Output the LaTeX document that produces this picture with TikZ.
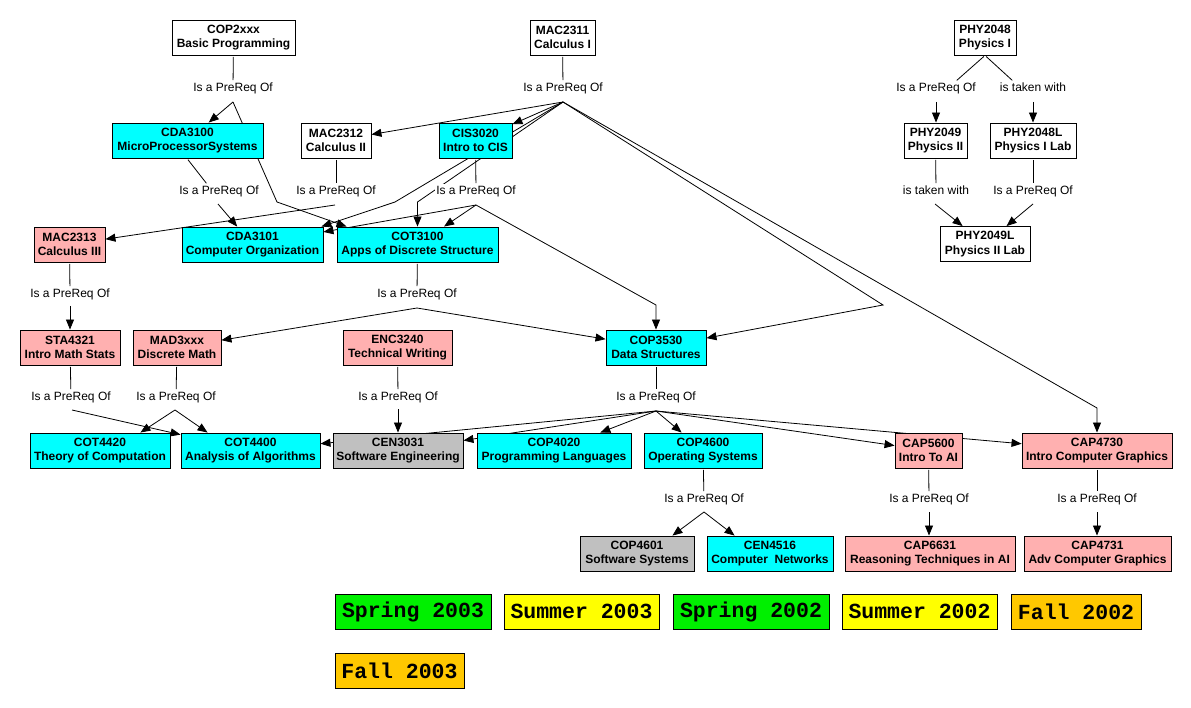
\documentclass[tikz,border=0pt]{standalone}
\usepackage{fontspec}
\setmainfont{Liberation Sans}
\newfontfamily\legfont{Liberation Mono}
\usetikzlibrary{arrows.meta,backgrounds}
\definecolor{ccyan}{HTML}{00FFFF}
\definecolor{cpink}{HTML}{FFB0B0}
\definecolor{cgray}{HTML}{C0C0C0}
\definecolor{cgreen}{HTML}{00F000}
\definecolor{cyellow}{HTML}{FFFF00}
\definecolor{corange}{HTML}{FFC800}
\begin{document}
\begin{tikzpicture}[x=1pt,y=-1pt,
 concept/.style={draw=black,line width=0.9pt,inner sep=0pt,minimum height=35pt,align=center,font=\fontsize{12}{14.5}\selectfont\bfseries},
 lnk/.style={fill=white,inner sep=1pt,text height=9pt,text depth=2.5pt,font=\fontsize{12}{14}\selectfont},
 legend/.style={draw=black,line width=0.9pt,inner sep=0pt,minimum height=35pt,font=\legfont\bfseries\fontsize{21.5}{24}\selectfont},
 plain/.style={line width=0.8pt,shorten <=1.5pt,shorten >=1pt},
 arr/.style={line width=0.8pt,-{Triangle[length=10pt,width=8pt]}},
]
\useasboundingbox (0,0) rectangle (1191,708);
% concepts
\node[concept,fill=white,minimum width=123pt] (cop2xxx) at (233.5,37.5) {COP2xxx\\Basic Programming};
\node[concept,fill=white,minimum width=65pt] (mac2311) at (562.5,37.5) {MAC2311\\Calculus I};
\node[concept,fill=white,minimum width=62pt] (phy2048) at (985,37.5) {PHY2048\\Physics I};
\node[concept,fill=ccyan,minimum width=151pt] (cda3100) at (187.5,140.5) {CDA3100\\MicroProcessorSystems};
\node[concept,fill=white,minimum width=70pt] (mac2312) at (336,140.5) {MAC2312\\Calculus II};
\node[concept,fill=ccyan,minimum width=73pt] (cis3020) at (475.5,140.5) {CIS3020\\Intro to CIS};
\node[concept,fill=white,minimum width=63pt] (phy2049) at (935.5,140.5) {PHY2049\\Physics II};
\node[concept,fill=white,minimum width=86pt] (phy2048l) at (1033,140.5) {PHY2048L\\Physics I Lab};
\node[concept,fill=cpink,minimum width=71pt] (mac2313) at (69.5,244.5) {MAC2313\\Calculus III};
\node[concept,fill=ccyan,minimum width=141pt] (cda3101) at (252.5,244.5) {CDA3101\\Computer Organization};
\node[concept,fill=ccyan,minimum width=161pt] (cot3100) at (417.5,244.5) {COT3100\\Apps of Discrete Structure};
\node[concept,fill=white,minimum width=90pt] (phy2049l) at (985,244) {PHY2049L\\Physics II Lab};
\node[concept,fill=cpink,minimum width=100pt] (sta4321) at (70,347.5) {STA4321\\Intro Math Stats};
\node[concept,fill=cpink,minimum width=88pt] (mad3xxx) at (177,347.5) {MAD3xxx\\Discrete Math};
\node[concept,fill=cpink,minimum width=109pt] (enc3240) at (397.5,347.5) {ENC3240\\Technical Writing};
\node[concept,fill=ccyan,minimum width=100pt] (cop3530) at (656,347.5) {COP3530\\Data Structures};
\node[concept,fill=ccyan,minimum width=140pt] (cot4420) at (100,450.5) {COT4420\\Theory of Computation};
\node[concept,fill=ccyan,minimum width=139pt] (cot4400) at (250.5,450.5) {COT4400\\Analysis of Algorithms};
\node[concept,fill=cgray,minimum width=130pt] (cen3031) at (398,450.5) {CEN3031\\Software Engineering};
\node[concept,fill=ccyan,minimum width=154pt] (cop4020) at (554,450.5) {COP4020\\Programming Languages};
\node[concept,fill=ccyan,minimum width=118pt] (cop4600) at (703,450.5) {COP4600\\Operating Systems};
\node[concept,fill=cpink,minimum width=67pt] (cap5600) at (928.5,450.5) {CAP5600\\Intro To AI};
\node[concept,fill=cpink,minimum width=150pt] (cap4730) at (1097,450.5) {CAP4730\\Intro Computer Graphics};
\node[concept,fill=cgray,minimum width=114pt] (cop4601) at (637,553.5) {COP4601\\Software Systems};
\node[concept,fill=ccyan,minimum width=126pt] (cen4516) at (770,553.5) {CEN4516\\Computer\ \ Networks};
\node[concept,fill=cpink,minimum width=170pt] (cap6631) at (930,553.5) {CAP6631\\Reasoning Techniques in AI};
\node[concept,fill=cpink,minimum width=147pt] (cap4731) at (1097.5,553.5) {CAP4731\\Adv Computer Graphics};
% linking phrases
\node[lnk] (l1) at (233,88) {Is a PreReq Of};
\node[lnk] (l2) at (219,191) {Is a PreReq Of};
\node[lnk] (l3) at (336,191) {Is a PreReq Of};
\node[lnk] (l4) at (563,88) {Is a PreReq Of};
\node[lnk] (l5) at (476,191) {Is a PreReq Of};
\node[lnk] (l6) at (417,294) {Is a PreReq Of};
\node[lnk] (l7) at (70,294) {Is a PreReq Of};
\node[lnk] (l8) at (71,397) {Is a PreReq Of};
\node[lnk] (l9) at (176,397) {Is a PreReq Of};
\node[lnk] (l10) at (398,397) {Is a PreReq Of};
\node[lnk] (l11) at (656,397) {Is a PreReq Of};
\node[lnk] (l12) at (704,499) {Is a PreReq Of};
\node[lnk] (l13) at (929,499) {Is a PreReq Of};
\node[lnk] (l14) at (1097,499) {Is a PreReq Of};
\node[lnk] (l15) at (936,88) {Is a PreReq Of};
\node[lnk] (l16) at (1033,88) {is taken with};
\node[lnk] (l17) at (936,191) {is taken with};
\node[lnk] (l18) at (1033,191) {Is a PreReq Of};
\coordinate (l1b) at (233,102);
\coordinate (l2b) at (218,204);
\coordinate (l3b) at (335,205);
\coordinate (l4b) at (563,102);
\coordinate (l5b) at (476,205);
\coordinate (l6b) at (417,308);
\coordinate (l7b) at (70,306);
\coordinate (l8b) at (72,410);
\coordinate (l9b) at (175,410);
\coordinate (l10b) at (398,409);
\coordinate (l11b) at (656,411);
\coordinate (l12b) at (704,512);
\coordinate (l13b) at (929,512);
\coordinate (l14b) at (1097,512);
\coordinate (l15b) at (936,102);
\coordinate (l16b) at (1033,102);
\coordinate (l17b) at (935,204);
\coordinate (l18b) at (1033,204);
\coordinate (b1) at (277,202);
\coordinate (b4a) at (395,202);
\coordinate (b4b) at (417.5,202);
\coordinate (b4c) at (883,305);
\coordinate (b4d) at (1097,408);
\coordinate (b5) at (656,305);
% legend
\node[legend,fill=cgreen,minimum width=156pt] (sp03) at (413,611.5) {Spring 2003};
\node[legend,fill=cyellow,minimum width=155pt] (su03) at (581.5,611.5) {Summer 2003};
\node[legend,fill=cgreen,minimum width=156pt] (sp02) at (751,611.5) {Spring 2002};
\node[legend,fill=cyellow,minimum width=155pt] (su02) at (919.5,611.5) {Summer 2002};
\node[legend,fill=corange,minimum width=130pt] (fa02) at (1076,611.5) {Fall 2002};
\node[legend,fill=corange,minimum width=129pt] (fa03) at (399.5,670.5) {Fall 2003};
\begin{pgfonlayer}{background}
\fill[white] (0,0) rectangle (1191,708);
% concept to linking phrase
\draw[plain] (cop2xxx) -- (l1);
\draw[plain] ([xshift=-0.5pt]cda3100.south) -- ([xshift=-12pt]l2.north);
\draw[plain] (mac2312) -- (l3);
\draw[plain] (mac2311) -- (l4);
\draw[plain] (cis3020) -- (l5);
\draw[plain] (cot3100) -- (l6);
\draw[plain] (mac2313) -- (l7);
\draw[plain] (sta4321) -- (l8);
\draw[plain] (mad3xxx) -- (l9);
\draw[plain] (enc3240) -- (l10);
\draw[plain] (cop3530) -- (l11);
\draw[plain] (cop4600) -- (l12);
\draw[plain] (cap5600) -- (l13);
\draw[plain] (cap4730) -- (l14);
\draw[plain] (phy2048.south) -- ([xshift=20pt]l15.north);
\draw[plain] (phy2048.south) -- ([xshift=-20pt]l16.north);
\draw[plain] (phy2049) -- (l17);
\draw[plain] (phy2048l) -- (l18);
% linking phrase to concept
\draw[arr] (l1b) -- (cda3100);
\draw[arr] (l1b) -- (b1) -- ([xshift=10pt]cot3100.north west);
\draw[arr] (l2b) -- (cda3101);
\draw[arr] (l3b) -- (mac2313);
\draw[arr] (l4b) -- (mac2312);
\draw[arr] (l4b) -- (cis3020);
\draw[arr] (l4b) -- (b4a) -- ([xshift=-2pt]cda3101.north east);
\draw[arr] (l4b) -- (b4b) -- (cot3100.north);
\draw[arr] (l4b) -- (b4c) -- (cop3530);
\draw[arr] (l4b) -- (b4d) -- (cap4730.north);
\draw[arr] (l5b) -- (cda3101);
\draw[arr] (l5b) -- (cot3100);
\draw[arr] (l5b) -- (b5) -- (cop3530.north);
\draw[arr] (l6b) -- (mad3xxx);
\draw[arr] (l6b) -- (cop3530);
\draw[arr] (l7b) -- (sta4321);
\draw[arr] (l8b) -- (cot4400);
\draw[arr] (l9b) -- ([xshift=-30pt]cot4420.north east);
\draw[arr] (l9b) -- ([xshift=27pt]cot4400.north west);
\draw[arr] (l10b) -- (cen3031);
\draw[arr] (l11b) -- (cot4400);
\draw[arr] (l11b) -- (cen3031);
\draw[arr] (l11b) -- (cop4020);
\draw[arr] (l11b) -- (cop4600);
\draw[arr] (l11b) -- (cap5600);
\draw[arr] (l11b) -- (cap4730);
\draw[arr] (l12b) -- ([xshift=-22pt]cop4601.north east);
\draw[arr] (l12b) -- ([xshift=28pt]cen4516.north west);
\draw[arr] (l13b) -- (l13b |- cap6631.north);
\draw[arr] (l14b) -- (l14b |- cap4731.north);
\draw[arr] (l15b) -- (l15b |- phy2049.north);
\draw[arr] (l16b) -- (l16b |- phy2048l.north);
\draw[arr] (l17b) -- (phy2049l);
\draw[arr] (l18b) -- (phy2049l);
\end{pgfonlayer}
\end{tikzpicture}
\end{document}
